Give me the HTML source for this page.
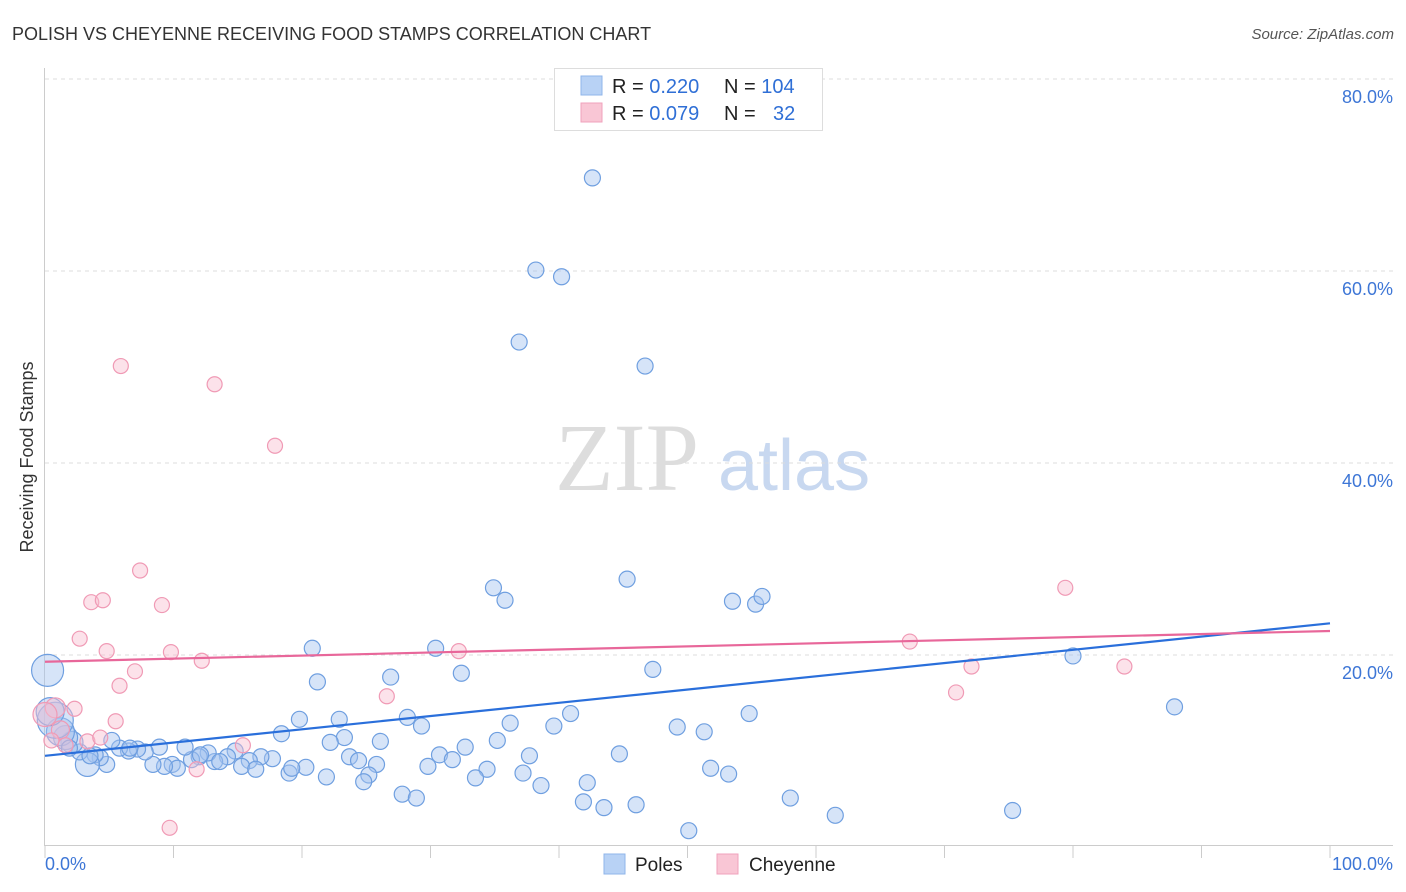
<!DOCTYPE html>
<html><head><meta charset="utf-8">
<style>
body{margin:0;background:#fff;font-family:"Liberation Sans",sans-serif;}
#wrap{position:relative;width:1406px;height:892px;overflow:hidden;}
</style></head>
<body>
<div id="wrap">
<svg id="svg" width="1406" height="892" xmlns="http://www.w3.org/2000/svg">
<text x="12" y="40" font-size="18" fill="#333">POLISH VS CHEYENNE RECEIVING FOOD STAMPS CORRELATION CHART</text>
<text x="1394" y="39" font-size="15" fill="#555" font-style="italic" text-anchor="end">Source: ZipAtlas.com</text>
<text x="33" y="457" font-size="18" fill="#333" text-anchor="middle" transform="rotate(-90 33 457)">Receiving Food Stamps</text>
<g>
<text x="555" y="490" font-size="96" fill="#ddd" font-family="Liberation Serif,serif">ZIP</text>
<text x="718" y="490" font-size="72" fill="#c8d8f0">atlas</text>
</g>
<g id="grid"></g><g id="axes"></g><g id="pts"></g><g id="lines"></g>
<g>
<rect x="554.5" y="68.5" width="268" height="62" fill="#fff" stroke="#ddd"/>
<rect x="581" y="76" width="21" height="19" fill="#b8d2f5" stroke="#8fb5ea"/>
<rect x="581" y="103" width="21" height="19" fill="#f9c6d5" stroke="#f0a2bc"/>
<text x="612" y="93" font-size="20" fill="#222">R = <tspan fill="#2f6fd6">0.220</tspan></text>
<text x="724" y="93" font-size="20" fill="#222">N = <tspan fill="#2f6fd6">104</tspan></text>
<text x="612" y="120" font-size="20" fill="#222">R = <tspan fill="#2f6fd6">0.079</tspan></text>
<text x="724" y="120" font-size="20" fill="#222">N = <tspan fill="#2f6fd6" x="773">32</tspan></text>
</g>
<g>
<rect x="604" y="854" width="21" height="20" fill="#b8d2f5" stroke="#8fb5ea"/>
<text x="635" y="871" font-size="19" fill="#222">Poles</text>
<text x="749" y="871" font-size="19" fill="#222">Cheyenne</text>
<rect x="717" y="854" width="21" height="20" fill="#f9c6d5" stroke="#f0a2bc"/>
</g>
</svg>
</div>
<script>
const yTicks=[20,40,60,80];
const yTickLabels=["20.0%","40.0%","60.0%","80.0%"];
const xTicks=[0,10,20,30,40,50,60,70,80,90,100];
const polesX=[42.6,38.2,40.2,36.9,46.7,45.3,34.9,35.8,53.5,55.3,55.8,20.8,30.4,21.2,32.4,47.3,80.0,87.9,26.9,40.9,54.8,49.2,51.3,28.2,19.8,22.9,29.3,36.2,39.6,18.4,23.3,22.2,26.1,35.2,32.7,30.7,31.7,37.7,44.7,23.7,24.4,25.8,29.8,34.4,37.2,33.5,25.2,24.8,38.6,42.2,51.8,53.2,27.8,28.9,41.9,43.5,46.0,58.0,61.5,75.3,50.1,21.9,20.3,19.0,19.2,17.7,16.8,15.9,15.3,16.4,14.8,14.2,13.2,12.7,12.0,11.4,10.9,9.9,10.3,9.3,8.4,8.9,7.8,7.2,6.5,5.8,5.2,4.8,4.3,3.9,3.3,2.7,2.1,1.6,1.2,0.8,0.4,0.2,3.5,1.9,6.6,12.1,13.6];
const polesY=[69.7,60.1,59.4,52.6,50.1,27.9,27.0,25.7,25.6,25.3,26.1,20.7,20.7,17.2,18.1,18.5,19.9,14.6,17.7,13.9,13.9,12.5,12.0,13.5,13.3,13.3,12.6,12.9,12.6,11.8,11.4,10.9,11.0,11.1,10.4,9.6,9.1,9.5,9.7,9.4,9.0,8.6,8.4,8.1,7.7,7.2,7.5,6.8,6.4,6.7,8.2,7.6,5.5,5.1,4.7,4.1,4.4,5.1,3.3,3.8,1.7,7.3,8.3,7.7,8.2,9.2,9.4,9.0,8.4,8.1,10.0,9.4,8.9,9.8,9.4,9.1,10.4,8.6,8.2,8.4,8.6,10.4,9.9,10.2,10.0,10.3,11.1,8.6,9.3,9.6,8.6,9.9,10.9,11.4,12.0,13.2,14.1,18.4,9.5,10.3,10.3,9.6,8.9];
const polesBig={"92":11,"93":12,"94":14,"95":18,"96":14,"97":16,"90":12};
const cheyX=[5.9,13.2,17.9,7.4,3.6,4.5,9.1,2.7,4.8,9.8,12.2,7.0,5.8,26.6,32.2,67.3,79.4,72.1,70.9,84.0,0.8,2.3,5.5,3.3,4.3,15.4,11.8,9.7,1.2,0.5,1.6,0.0];
const cheyY=[50.1,48.2,41.8,28.8,25.5,25.7,25.2,21.7,20.4,20.3,19.4,18.3,16.8,15.7,20.4,21.4,27.0,18.8,16.1,18.8,14.5,14.4,13.1,11.0,11.4,10.6,8.1,2.0,12.2,11.1,10.6,13.8];
const cheyBig={"20":10,"31":12,"28":9};
const polesTrend=[9.5,23.3];
const cheyTrend=[19.3,22.5];

const NS="http://www.w3.org/2000/svg";
const X=v=>45+v*12.85, Y=v=>847-v*9.6;
function mk(tag,attrs,parent){const e=document.createElementNS(NS,tag);for(const k in attrs)e.setAttribute(k,attrs[k]);document.getElementById(parent).appendChild(e);return e;}
yTicks.forEach((t,i)=>{
 const l=mk('line',{x1:45,x2:1393,y1:Y(t),y2:Y(t),stroke:'#ddd','stroke-dasharray':'4,4'},'grid');
 
 
 const tx=mk('text',{x:1393,y:Y(t)+24,'font-size':18,fill:'#3d76d6','text-anchor':'end'},'grid');
 tx.textContent=yTickLabels[i];
 
 
});
const ax=mk('line',{x1:45,x2:1393,y1:845.5,y2:845.5,stroke:'#ccc'},'axes');


const ay=mk('line',{x1:44.5,x2:44.5,y1:68,y2:846,stroke:'#ccc'},'axes');


xTicks.forEach(t=>{
 const l=mk('line',{x1:X(t),x2:X(t),y1:846,y2:858,stroke:'#ccc'},'axes');
 
 
});
const xl0=mk('text',{x:45,y:870,'font-size':18,fill:'#3d76d6'},'axes');xl0.textContent='0.0%';


const xl1=mk('text',{x:1393,y:870,'font-size':18,fill:'#3d76d6','text-anchor':'end'},'axes');xl1.textContent='100.0%';


polesX.forEach((v,i)=>{
 const c=mk('circle',{cx:X(v),cy:Y(polesY[i]),r:polesBig[i]||8,fill:'rgba(164,196,240,0.45)',stroke:'#6f9fe0','stroke-width':1.2},'pts');
 
 
});
cheyX.forEach((v,i)=>{
 const c=mk('circle',{cx:X(v),cy:Y(cheyY[i]),r:cheyBig[i]||7.5,fill:'rgba(248,190,208,0.45)',stroke:'#f09ab5','stroke-width':1.2},'pts');
 
 
});
const bl=mk('line',{x1:X(0),x2:X(100),y1:Y(polesTrend[0]),y2:Y(polesTrend[1]),stroke:'#2a6fdb','stroke-width':2.2},'lines');


const pl=mk('line',{x1:X(0),x2:X(100),y1:Y(cheyTrend[0]),y2:Y(cheyTrend[1]),stroke:'#e8679a','stroke-width':2.2},'lines');


</script>
</body></html>
